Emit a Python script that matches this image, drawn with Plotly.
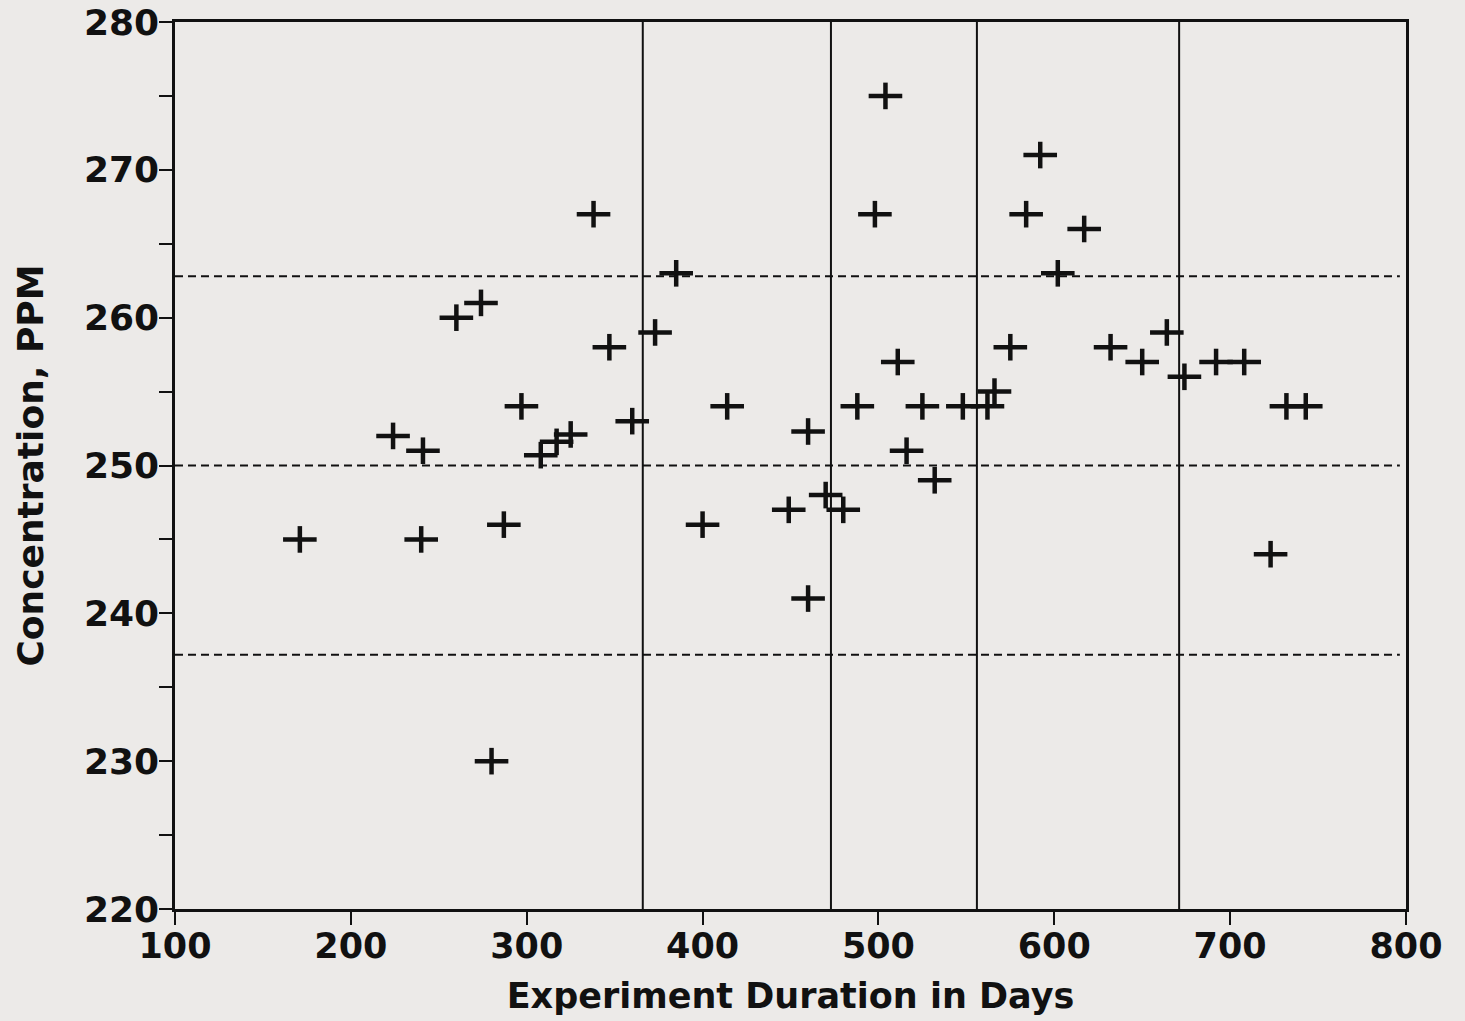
import plotly.graph_objects as go

# Data
days = [171, 224, 241, 240, 260, 274, 280, 287, 297, 308, 317, 325, 338, 347, 360,
        373, 385, 400, 414, 449, 460, 460, 470, 480, 488, 498, 504, 511, 516, 525,
        532, 548, 562, 566, 575, 584, 592, 602, 617, 632, 650, 664, 674, 692, 708,
        723, 732, 743]
conc = [245, 252, 251, 245, 260, 261, 230, 246, 254, 250.7, 251.6, 252.1, 267, 258, 253,
        259, 263, 246, 254, 247, 252.3, 241, 248, 247, 254, 267, 275, 257, 251, 254,
        249, 254, 254, 255, 258, 267, 271, 263, 266, 258, 257, 259, 256, 257, 257,
        244, 254, 254]

period_breaks = [366, 473, 556, 671]
control_limits = [262.8, 250.0, 237.2]

x_ticks = [100, 200, 300, 400, 500, 600, 700, 800]
y_ticks = [220, 230, 240, 250, 260, 270, 280]

BG = "#ECEAE8"
INK = "#111111"
FONT = "DejaVu Sans"

fig = go.Figure()

# plus markers: wider horizontal bar, shorter vertical bar
fig.add_trace(go.Scatter(x=days, y=conc, mode="markers",
                         marker=dict(symbol="line-ew", size=24,
                                     line=dict(color=INK, width=4.5)),
                         hoverinfo="x+y", showlegend=False))
fig.add_trace(go.Scatter(x=days, y=conc, mode="markers",
                         marker=dict(symbol="line-ns", size=19,
                                     line=dict(color=INK, width=4.5)),
                         hoverinfo="skip", showlegend=False))

for xb in period_breaks:
    fig.add_shape(type="line", xref="x", yref="paper", x0=xb, x1=xb, y0=0, y1=1,
                  line=dict(color=INK, width=2), layer="above")

for yl in control_limits:
    fig.add_shape(type="line", xref="x", yref="y", x0=100, x1=796.5, y0=yl, y1=yl,
                  line=dict(color=INK, width=2, dash="8px,5px"), layer="above")

fig.update_layout(
    width=1465, height=1021,
    margin=dict(l=175, r=59, t=22, b=112),
    paper_bgcolor=BG, plot_bgcolor=BG,
    font=dict(family=FONT, color=INK),
    showlegend=False,
)

fig.update_xaxes(
    range=[100, 800], tickvals=x_ticks, ticktext=[str(v) for v in x_ticks],
    ticks="outside", ticklen=13, tickwidth=1.5, tickcolor=INK,
    showline=True, linecolor=INK, linewidth=2.5, mirror=True,
    showgrid=False, zeroline=False, automargin=False,
    ticklabelstandoff=-9,
    tickfont=dict(family=FONT, size=35, color=INK, weight="bold"),
    title=dict(text="<b>Experiment Duration in Days</b>",
               font=dict(family=FONT, size=35, color=INK), standoff=19),
)
fig.update_yaxes(
    range=[220, 280], tickvals=y_ticks, ticktext=[str(v) for v in y_ticks],
    ticks="outside", ticklen=13, tickwidth=1.5, tickcolor=INK,
    minor=dict(dtick=5, tick0=220, ticks="outside", ticklen=13, tickwidth=1.5,
               tickcolor=INK, showgrid=False),
    showline=True, linecolor=INK, linewidth=2.5, mirror=True,
    showgrid=False, zeroline=False, automargin=False,
    ticklabelstandoff=-7,
    tickfont=dict(family=FONT, size=36, color=INK, weight="bold"),
    title=dict(text="<b>Concentration, PPM</b>",
               font=dict(family=FONT, size=36, color=INK), standoff=30),
)

fig.write_html("out.html",
               config={"displayModeBar": False},
               post_script="document.body.style.margin='0';"
                           "document.body.style.background='" + BG + "';")
